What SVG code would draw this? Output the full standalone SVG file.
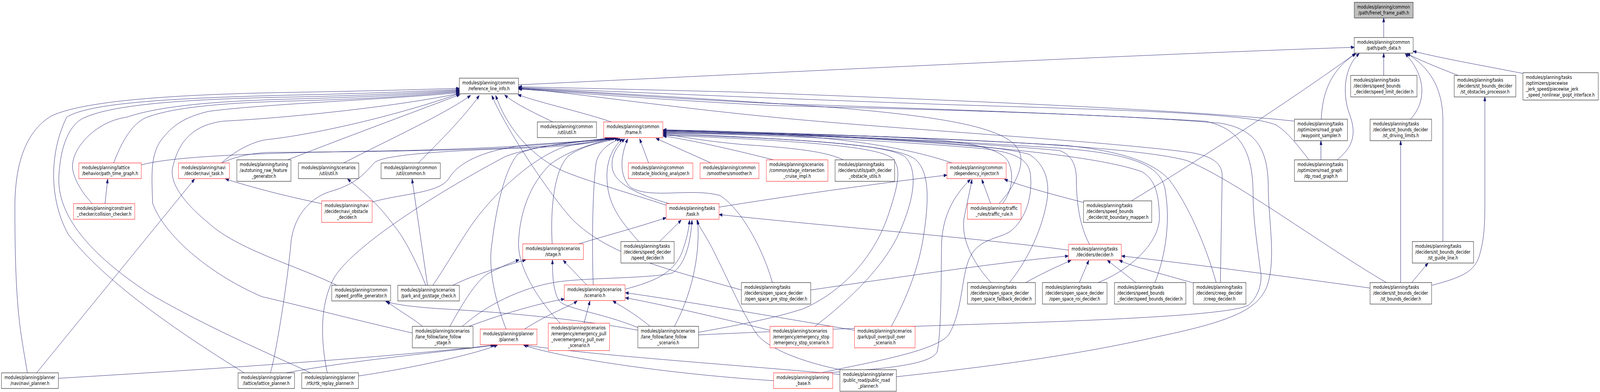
<svg xmlns="http://www.w3.org/2000/svg" width="5378" height="1003" viewBox="0 0 5378 1003" preserveAspectRatio="none" style="width:100%;height:100%;display:block">
<style>
.node rect{fill:#ffffff;stroke:#000000;stroke-width:1}
.red rect{stroke:#ff0000}
.top rect{fill:#bfbfbf}
text{font-family:"DejaVu Sans","Liberation Sans",sans-serif;font-size:13px;fill:#000000}
.c{text-anchor:middle}
#edges path{fill:none;stroke:#191970;stroke-width:1;marker-end:url(#a)}
</style>
<defs>
<marker id="a" markerWidth="11" markerHeight="8" refX="11" refY="4" orient="auto" markerUnits="userSpaceOnUse"><path d="M0,0L11,4L0,8z" fill="#191970" stroke="#191970" stroke-width="1"/></marker>
</defs>
<rect width="5378" height="1003" fill="#ffffff"/>
<g id="edges">
<path d="M4651,96 L4651,46"/>
<path d="M1743,217 C2500,190 3800,140 4552,121"/>
<path d="M4651,193 L4651,136"/>
<path d="M4901,193 C4850,178 4790,160 4728,137"/>
<path d="M5119,188 C5000,170 4850,150 4750,131"/>
<path d="M4741,305 C4790,265 4800,200 4723,137"/>
<path d="M4850,618 L4850,310 C4850,220 4800,170 4729,137"/>
<path d="M4494,409 C4560,370 4555,330 4535,290 C4510,235 4520,170 4569,137"/>
<path d="M4441,305 C4445,240 4470,180 4558,137"/>
<path d="M3803,514 C4050,400 4350,250 4556,137"/>
<path d="M2055,312 C1950,285 1800,260 1741,242"/>
<path d="M1858,312 C1800,290 1740,270 1696,243"/>
<path d="M967,409 C1200,340 1450,270 1546,242"/>
<path d="M1155,417 C1300,360 1500,290 1582,244"/>
<path d="M1406,417 C1480,360 1560,300 1611,244"/>
<path d="M2239,525 C2120,495 2000,470 1900,440 C1780,400 1700,320 1666,244"/>
<path d="M2492,742 C2300,700 2050,660 1922,560 C1850,500 1700,330 1653,244"/>
<path d="M744,417 C800,380 860,360 900,357 C1100,340 1400,280 1544,239"/>
<path d="M92,954 C70,850 50,800 50,530 C50,400 100,330 172,297 C300,250 700,240 1000,236 C1300,232 1450,228 1544,226"/>
<path d="M821,954 C600,850 350,720 230,600 C170,520 160,400 224,300 C300,262 600,250 1000,243 C1300,238 1450,232 1544,229"/>
<path d="M1044,954 C950,920 700,840 500,750 C300,650 190,550 198,450 C205,350 250,310 287,300 C400,262 700,252 1000,248 C1300,243 1450,235 1544,231"/>
<path d="M310,521 C260,480 240,440 244,420 C250,370 330,310 425,300 C550,268 750,258 1000,253 C1300,247 1450,238 1544,233"/>
<path d="M382,417 C420,340 460,310 494,300 C600,270 800,262 1000,258 C1300,252 1450,240 1544,235"/>
<path d="M1386,852 C1200,820 1000,780 880,759 C700,700 550,600 513,520 C510,450 505,400 540,360 C580,320 620,300 700,285 C900,265 1300,255 1544,237"/>
<path d="M1132,730 C1000,680 800,640 700,570 C620,520 570,470 580,430 C600,360 650,320 750,310 C1000,300 1350,270 1544,239"/>
<path d="M3358,521 C3420,470 3450,410 3420,380 C3380,330 3200,300 2800,275 C2300,248 1900,232 1743,225"/>
<path d="M4351,310 C4000,280 3000,250 2500,236 C2100,228 1850,224 1743,222"/>
<path d="M4400,409 C4360,370 4330,340 4290,320 C4200,290 3800,282 3200,268 C2600,252 2000,232 1743,224"/>
<path d="M4102,723 L4108,450 C4108,420 4080,400 4000,390 C3700,360 3000,330 2600,300 C2200,270 1900,235 1743,226"/>
<path d="M2348,857 C2800,840 3300,830 3580,822 C3900,812 4150,800 4196,781 C4245,750 4240,700 4237,694 C4225,620 4212,560 4212,500 C4212,400 4180,330 4050,310 C3600,290 3000,275 2600,265 C2200,250 1900,232 1743,227"/>
<path d="M3013,964 C3300,940 3600,912 3900,860 C4150,820 4230,790 4260,730 C4290,660 4263,560 4263,480 C4263,380 4220,330 4100,315 C3700,290 3100,280 2600,270 C2200,255 1900,235 1743,228"/>
<path d="M475,422 C600,395 1000,390 1300,386 C1700,380 1950,365 2045,353"/>
<path d="M746,417 C790,400 850,392 900,390 C1300,388 1700,384 1950,367 C2000,362 2030,357 2048,353"/>
<path d="M1251,517 C1350,495 1480,495 1510,455 C1560,395 1700,375 1800,369 C1950,362 2020,358 2052,353"/>
<path d="M909,954 C930,900 970,700 978,620 C990,540 1060,500 1115,489 C1200,470 1230,440 1260,415 C1300,395 1500,385 1800,378 C1950,372 2030,362 2055,353"/>
<path d="M1100,954 C1080,880 1070,780 1126,707 C1200,620 1500,480 1700,400 C1800,372 1950,362 2058,353"/>
<path d="M1701,842 C1660,760 1640,680 1654,620 C1670,520 1700,430 1740,395 C1800,368 2000,362 2062,353"/>
<path d="M1455,730 C1500,680 1560,600 1600,560 C1680,480 1800,400 1900,375 C1980,362 2040,358 2066,353"/>
<path d="M1883,827 C1800,760 1740,680 1743,620 C1746,560 1770,480 1850,420 C1920,380 2020,362 2070,353"/>
<path d="M1856,624 C1850,540 1860,440 1909,400 C1960,370 2040,362 2078,354"/>
<path d="M1994,729 C1990,650 1990,500 2003,420 C2010,385 2050,365 2085,355"/>
<path d="M2147,618 C2080,560 2040,520 2040,450 C2040,400 2070,370 2092,355"/>
<path d="M2250,521 C2150,500 2065,470 2058,430 C2052,395 2080,370 2100,355"/>
<path d="M2596,723 C2570,650 2500,540 2420,500 C2320,480 2190,510 2120,480 C2080,450 2085,400 2110,355"/>
<path d="M2180,417 L2150,355"/>
<path d="M2390,417 L2205,354"/>
<path d="M2600,409 C2450,380 2300,355 2229,348"/>
<path d="M2835,409 C2780,390 2700,380 2500,370 C2350,360 2260,345 2229,343"/>
<path d="M3200,417 C3100,390 2900,355 2600,345 C2400,340 2280,337 2229,337"/>
<path d="M3370,521 C3400,490 3410,450 3390,415 C3360,370 3200,355 2900,348 C2600,342 2300,338 2229,336"/>
<path d="M3662,625 C3630,580 3618,520 3618,460 C3618,420 3600,395 3560,385 C3200,360 2600,340 2229,333"/>
<path d="M3691,723 C3800,690 3900,620 3897,553 C3895,490 3880,460 3840,440 C3700,400 3300,370 2800,350 C2500,340 2300,334 2229,334"/>
<path d="M3882,723 C3920,650 3935,560 3915,480 C3895,420 3800,395 3580,380 C3200,360 2600,340 2229,333"/>
<path d="M4088,723 C4050,620 3990,520 3930,460 C3870,410 3750,385 3580,372 C3200,355 2600,338 2229,332"/>
<path d="M4660,723 C4450,630 4150,460 3990,411 C3800,370 3000,345 2229,335"/>
<path d="M3393,723 C3440,680 3500,600 3519,514 C3530,460 3510,420 3460,395 C3300,360 2700,345 2229,339"/>
<path d="M2996,835 C3050,760 3090,680 3105,600 C3125,500 3120,440 3080,410 C3030,375 2800,360 2229,341"/>
<path d="M2739,835 C2850,770 2980,680 3032,579 C3075,500 3085,430 3040,400 C2980,370 2700,355 2229,344"/>
<path d="M2348,850 C2500,830 2620,810 2700,790 C2850,740 2950,640 2990,540 C3020,470 3030,430 3000,405 C2950,375 2700,360 2229,346"/>
<path d="M2760,954 C2900,930 3150,900 3190,855 C3240,790 3230,690 3267,649 C3300,610 3360,610 3396,592 C3450,560 3470,500 3464,450 C3460,410 3420,390 3300,380 C3000,360 2600,345 2229,340"/>
<path d="M2417,530 C2700,495 3000,465 3183,448"/>
<path d="M3330,521 L3300,459"/>
<path d="M3642,518 C3550,500 3450,480 3376,459"/>
<path d="M3331,723 C3280,680 3230,620 3240,560 C3250,520 3260,490 3267,459"/>
<path d="M2774,954 C2950,945 3130,935 3150,900 C3165,850 3163,700 3165,620 C3170,540 3220,490 3262,459"/>
<path d="M1945,624 C2050,600 2150,580 2239,557"/>
<path d="M2101,740 C2200,720 2260,700 2290,650 C2310,610 2315,585 2318,563"/>
<path d="M1554,835 C1650,770 1780,730 1886,720 C2000,710 2200,712 2262,698 C2310,670 2322,610 2326,563"/>
<path d="M2267,835 C2320,760 2355,660 2345,563"/>
<path d="M2217,618 L2290,563"/>
<path d="M3592,640 C3300,610 2800,580 2417,549"/>
<path d="M2825,946 C2720,930 2600,900 2549,860 C2500,810 2450,720 2410,660 C2380,610 2352,585 2342,563"/>
<path d="M1763,842 C1850,800 1920,782 1940,770"/>
<path d="M1576,835 C1700,800 1820,775 1897,765"/>
<path d="M1963,827 L1983,770"/>
<path d="M2185,835 C2130,800 2080,780 2060,770"/>
<path d="M2872,845 C2600,810 2300,770 2102,749"/>
<path d="M2588,845 C2400,810 2200,775 2102,762"/>
<path d="M1522,730 C1600,700 1700,680 1767,665"/>
<path d="M1512,835 C1560,770 1600,720 1640,700 C1680,685 1720,670 1745,665"/>
<path d="M2144,838 C2020,800 1900,790 1880,770 C1858,745 1857,700 1857,665"/>
<path d="M1972,729 L1893,666"/>
<path d="M1420,835 C1380,810 1330,790 1300,771"/>
<path d="M2144,845 C1900,810 1600,795 1480,790 C1400,786 1330,780 1296,771"/>
<path d="M1431,730 C1400,670 1360,610 1326,579 C1270,520 1220,490 1168,458"/>
<path d="M1437,730 L1385,458"/>
<path d="M123,954 L654,458"/>
<path d="M1081,521 C950,500 850,480 758,458"/>
<path d="M353,521 L362,458"/>
<path d="M196,968 C700,945 1300,915 1660,883"/>
<path d="M962,954 C1200,920 1500,900 1665,883"/>
<path d="M1205,962 C1400,940 1600,905 1672,883"/>
<path d="M2600,974 C2300,960 1900,920 1760,883"/>
<path d="M2823,958 C2500,935 2000,910 1765,883"/>
<path d="M2725,742 C3100,700 3400,668 3591,655"/>
<path d="M3448,723 C3500,700 3560,680 3600,666"/>
<path d="M3628,723 L3660,666"/>
<path d="M3818,723 L3722,666"/>
<path d="M4016,725 C3900,700 3800,680 3762,666"/>
<path d="M4605,737 C4300,705 4000,675 3770,655"/>
<path d="M4440,409 L4440,360"/>
<path d="M4708,723 L4708,360"/>
<path d="M4745,723 L4800,673"/>
<path d="M4813,730 C4900,712 4950,700 4970,660 C4992,610 4991,560 4991,500 L4991,248"/>
</g>
<g id="n_frenet" class="node top"><rect x="4552" y="6" width="198" height="40"/><text x="4562" y="22">modules/planning/common</text><text class="c" x="4651" y="37">/path/frenet_frame_path.h</text></g>
<g id="n_path_data" class="node"><rect x="4552" y="96" width="198" height="40"/><text x="4562" y="112">modules/planning/common</text><text class="c" x="4651" y="127">/path/path_data.h</text></g>
<g id="n_ref" class="node"><rect x="1544" y="200" width="199" height="40"/><text x="1554" y="216">modules/planning/common</text><text class="c" x="1643.5" y="231">/reference_line_info.h</text></g>
<g id="n_speed_limit" class="node"><rect x="4540" y="193" width="223" height="55"/><text x="4550" y="209">modules/planning/tasks</text><text x="4550" y="224">/deciders/speed_bounds</text><text class="c" x="4651.5" y="239">_decider/speed_limit_decider.h</text></g>
<g id="n_st_obstacles" class="node"><rect x="4888" y="193" width="207" height="55"/><text x="4898" y="209">modules/planning/tasks</text><text x="4898" y="224">/deciders/st_bounds_decider</text><text class="c" x="4991.5" y="239">/st_obstacles_processor.h</text></g>
<g id="n_ipopt" class="node"><rect x="5119" y="186" width="253" height="70"/><text x="5129" y="202">modules/planning/tasks</text><text x="5129" y="217">/optimizers/piecewise</text><text x="5129" y="232">_jerk_speed/piecewise_jerk</text><text class="c" x="5245.5" y="247">_speed_nonlinear_ipopt_interface.h</text></g>
<g id="n_cuu" class="node"><rect x="1806" y="312" width="199" height="40"/><text x="1816" y="328">modules/planning/common</text><text class="c" x="1905.5" y="343">/util/util.h</text></g>
<g id="n_frame" class="node red"><rect x="2029" y="312" width="199" height="40"/><text x="2039" y="328">modules/planning/common</text><text class="c" x="2128.5" y="343">/frame.h</text></g>
<g id="n_waypoint" class="node"><rect x="4351" y="305" width="178" height="55"/><text x="4361" y="321">modules/planning/tasks</text><text x="4361" y="336">/optimizers/road_graph</text><text class="c" x="4440" y="351">/waypoint_sampler.h</text></g>
<g id="n_st_driving" class="node"><rect x="4605" y="305" width="207" height="55"/><text x="4615" y="321">modules/planning/tasks</text><text x="4615" y="336">/deciders/st_bounds_decider</text><text class="c" x="4708.5" y="351">/st_driving_limits.h</text></g>
<g id="n_ptg" class="node red"><rect x="265" y="417" width="210" height="40"/><text x="275" y="433">modules/planning/lattice</text><text class="c" x="370" y="448">/behavior/path_time_graph.h</text></g>
<g id="n_navi_task" class="node red"><rect x="600" y="417" width="171" height="40"/><text x="610" y="433">modules/planning/navi</text><text class="c" x="685.5" y="448">/decider/navi_task.h</text></g>
<g id="n_autotuning" class="node"><rect x="796" y="409" width="182" height="55"/><text x="806" y="425">modules/planning/tuning</text><text x="806" y="440">/autotuning_raw_feature</text><text class="c" x="887" y="455">_generator.h</text></g>
<g id="n_scen_util" class="node"><rect x="1003" y="417" width="203" height="40"/><text x="1013" y="433">modules/planning/scenarios</text><text class="c" x="1104.5" y="448">/util/util.h</text></g>
<g id="n_cuc" class="node"><rect x="1281" y="417" width="199" height="40"/><text x="1291" y="433">modules/planning/common</text><text class="c" x="1380.5" y="448">/util/common.h</text></g>
<g id="n_oba" class="node red"><rect x="2112" y="417" width="217" height="40"/><text x="2122" y="433">modules/planning/common</text><text class="c" x="2220.5" y="448">/obstacle_blocking_analyzer.h</text></g>
<g id="n_smoother" class="node red"><rect x="2353" y="417" width="198" height="40"/><text x="2363" y="433">modules/planning/common</text><text class="c" x="2452" y="448">/smoothers/smoother.h</text></g>
<g id="n_sic" class="node red"><rect x="2576" y="409" width="207" height="55"/><text x="2586" y="425">modules/planning/scenarios</text><text x="2586" y="440">/common/stage_intersection</text><text class="c" x="2679.5" y="455">_cruise_impl.h</text></g>
<g id="n_pdou" class="node"><rect x="2807" y="409" width="200" height="55"/><text x="2817" y="425">modules/planning/tasks</text><text x="2817" y="440">/deciders/utils/path_decider</text><text class="c" x="2907" y="455">_obstacle_utils.h</text></g>
<g id="n_dep" class="node red"><rect x="3183" y="417" width="199" height="40"/><text x="3193" y="433">modules/planning/common</text><text class="c" x="3282.5" y="448">/dependency_injector.h</text></g>
<g id="n_dp" class="node"><rect x="4351" y="409" width="178" height="55"/><text x="4361" y="425">modules/planning/tasks</text><text x="4361" y="440">/optimizers/road_graph</text><text class="c" x="4440" y="455">/dp_road_graph.h</text></g>
<g id="n_cc" class="node red"><rect x="247" y="521" width="206" height="40"/><text x="257" y="537">modules/planning/constraint</text><text class="c" x="350" y="552">_checker/collision_checker.h</text></g>
<g id="n_nod" class="node red"><rect x="1081" y="514" width="170" height="55"/><text x="1091" y="530">modules/planning/navi</text><text x="1091" y="545">/decider/navi_obstacle</text><text class="c" x="1166" y="560">_decider.h</text></g>
<g id="n_task" class="node red"><rect x="2239" y="521" width="178" height="40"/><text x="2249" y="537">modules/planning/tasks</text><text class="c" x="2328" y="552">/task.h</text></g>
<g id="n_traffic" class="node red"><rect x="3252" y="521" width="180" height="40"/><text x="3262" y="537">modules/planning/traffic</text><text class="c" x="3342" y="552">_rules/traffic_rule.h</text></g>
<g id="n_stbm" class="node"><rect x="3642" y="514" width="229" height="55"/><text x="3652" y="530">modules/planning/tasks</text><text x="3652" y="545">/deciders/speed_bounds</text><text class="c" x="3756.5" y="560">_decider/st_boundary_mapper.h</text></g>
<g id="n_stage" class="node red"><rect x="1757" y="624" width="204" height="40"/><text x="1767" y="640">modules/planning/scenarios</text><text class="c" x="1859" y="655">/stage.h</text></g>
<g id="n_speed_decider" class="node"><rect x="2087" y="618" width="179" height="55"/><text x="2097" y="634">modules/planning/tasks</text><text x="2097" y="649">/deciders/speed_decider</text><text class="c" x="2176.5" y="664">/speed_decider.h</text></g>
<g id="n_decider" class="node red"><rect x="3592" y="625" width="177" height="40"/><text x="3602" y="641">modules/planning/tasks</text><text class="c" x="3680.5" y="656">/deciders/decider.h</text></g>
<g id="n_st_guide" class="node"><rect x="4747" y="618" width="206" height="55"/><text x="4757" y="634">modules/planning/tasks</text><text x="4757" y="649">/deciders/st_bounds_decider</text><text class="c" x="4850" y="664">/st_guide_line.h</text></g>
<g id="n_spg" class="node"><rect x="1115" y="730" width="198" height="40"/><text x="1125" y="746">modules/planning/common</text><text class="c" x="1214" y="761">/speed_profile_generator.h</text></g>
<g id="n_stage_check" class="node"><rect x="1337" y="730" width="207" height="40"/><text x="1347" y="746">modules/planning/scenarios</text><text class="c" x="1440.5" y="761">/park_and_go/stage_check.h</text></g>
<g id="n_scenario" class="node red"><rect x="1897" y="729" width="204" height="40"/><text x="1907" y="745">modules/planning/scenarios</text><text class="c" x="1999" y="760">/scenario.h</text></g>
<g id="n_ospsd" class="node"><rect x="2492" y="723" width="233" height="55"/><text x="2502" y="739">modules/planning/tasks</text><text x="2502" y="754">/deciders/open_space_decider</text><text class="c" x="2608.5" y="769">/open_space_pre_stop_decider.h</text></g>
<g id="n_osfd" class="node"><rect x="3252" y="723" width="228" height="55"/><text x="3262" y="739">modules/planning/tasks</text><text x="3262" y="754">/deciders/open_space_decider</text><text class="c" x="3366" y="769">/open_space_fallback_decider.h</text></g>
<g id="n_osrd" class="node"><rect x="3504" y="723" width="217" height="55"/><text x="3514" y="739">modules/planning/tasks</text><text x="3514" y="754">/deciders/open_space_decider</text><text class="c" x="3612.5" y="769">/open_space_roi_decider.h</text></g>
<g id="n_sbd" class="node"><rect x="3746" y="723" width="240" height="55"/><text x="3756" y="739">modules/planning/tasks</text><text x="3756" y="754">/deciders/speed_bounds</text><text class="c" x="3866" y="769">_decider/speed_bounds_decider.h</text></g>
<g id="n_creep" class="node"><rect x="4011" y="723" width="177" height="55"/><text x="4021" y="739">modules/planning/tasks</text><text x="4021" y="754">/deciders/creep_decider</text><text class="c" x="4099.5" y="769">/creep_decider.h</text></g>
<g id="n_stbd" class="node"><rect x="4605" y="723" width="207" height="55"/><text x="4615" y="739">modules/planning/tasks</text><text x="4615" y="754">/deciders/st_bounds_decider</text><text class="c" x="4708.5" y="769">/st_bounds_decider.h</text></g>
<g id="n_lfstage" class="node"><rect x="1386" y="835" width="204" height="55"/><text x="1396" y="851">modules/planning/scenarios</text><text x="1396" y="866">/lane_follow/lane_follow</text><text class="c" x="1488" y="881">_stage.h</text></g>
<g id="n_planner" class="node red"><rect x="1614" y="842" width="191" height="40"/><text x="1624" y="858">modules/planning/planner</text><text class="c" x="1709.5" y="873">/planner.h</text></g>
<g id="n_epo" class="node red"><rect x="1843" y="827" width="206" height="70"/><text x="1853" y="843">modules/planning/scenarios</text><text x="1853" y="858">/emergency/emergency_pull</text><text x="1853" y="873">_over/emergency_pull_over</text><text class="c" x="1946" y="888">_scenario.h</text></g>
<g id="n_lfscen" class="node"><rect x="2144" y="835" width="204" height="55"/><text x="2154" y="851">modules/planning/scenarios</text><text x="2154" y="866">/lane_follow/lane_follow</text><text class="c" x="2246" y="881">_scenario.h</text></g>
<g id="n_estop" class="node red"><rect x="2588" y="835" width="212" height="55"/><text x="2598" y="851">modules/planning/scenarios</text><text x="2598" y="866">/emergency/emergency_stop</text><text class="c" x="2694" y="881">/emergency_stop_scenario.h</text></g>
<g id="n_pullover" class="node red"><rect x="2872" y="835" width="204" height="55"/><text x="2882" y="851">modules/planning/scenarios</text><text x="2882" y="866">/park/pull_over/pull_over</text><text class="c" x="2974" y="881">_scenario.h</text></g>
<g id="n_navi_planner" class="node"><rect x="5" y="954" width="191" height="40"/><text x="15" y="970">modules/planning/planner</text><text class="c" x="100.5" y="985">/navi/navi_planner.h</text></g>
<g id="n_lattice" class="node"><rect x="800" y="954" width="190" height="40"/><text x="810" y="970">modules/planning/planner</text><text class="c" x="895" y="985">/lattice/lattice_planner.h</text></g>
<g id="n_rtk" class="node"><rect x="1014" y="954" width="191" height="40"/><text x="1024" y="970">modules/planning/planner</text><text class="c" x="1109.5" y="985">/rtk/rtk_replay_planner.h</text></g>
<g id="n_pbase" class="node red"><rect x="2600" y="954" width="199" height="40"/><text x="2610" y="970">modules/planning/planning</text><text class="c" x="2699.5" y="985">_base.h</text></g>
<g id="n_public_road" class="node"><rect x="2823" y="946" width="190" height="55"/><text x="2833" y="962">modules/planning/planner</text><text x="2833" y="977">/public_road/public_road</text><text class="c" x="2918" y="992">_planner.h</text></g>
</svg>
